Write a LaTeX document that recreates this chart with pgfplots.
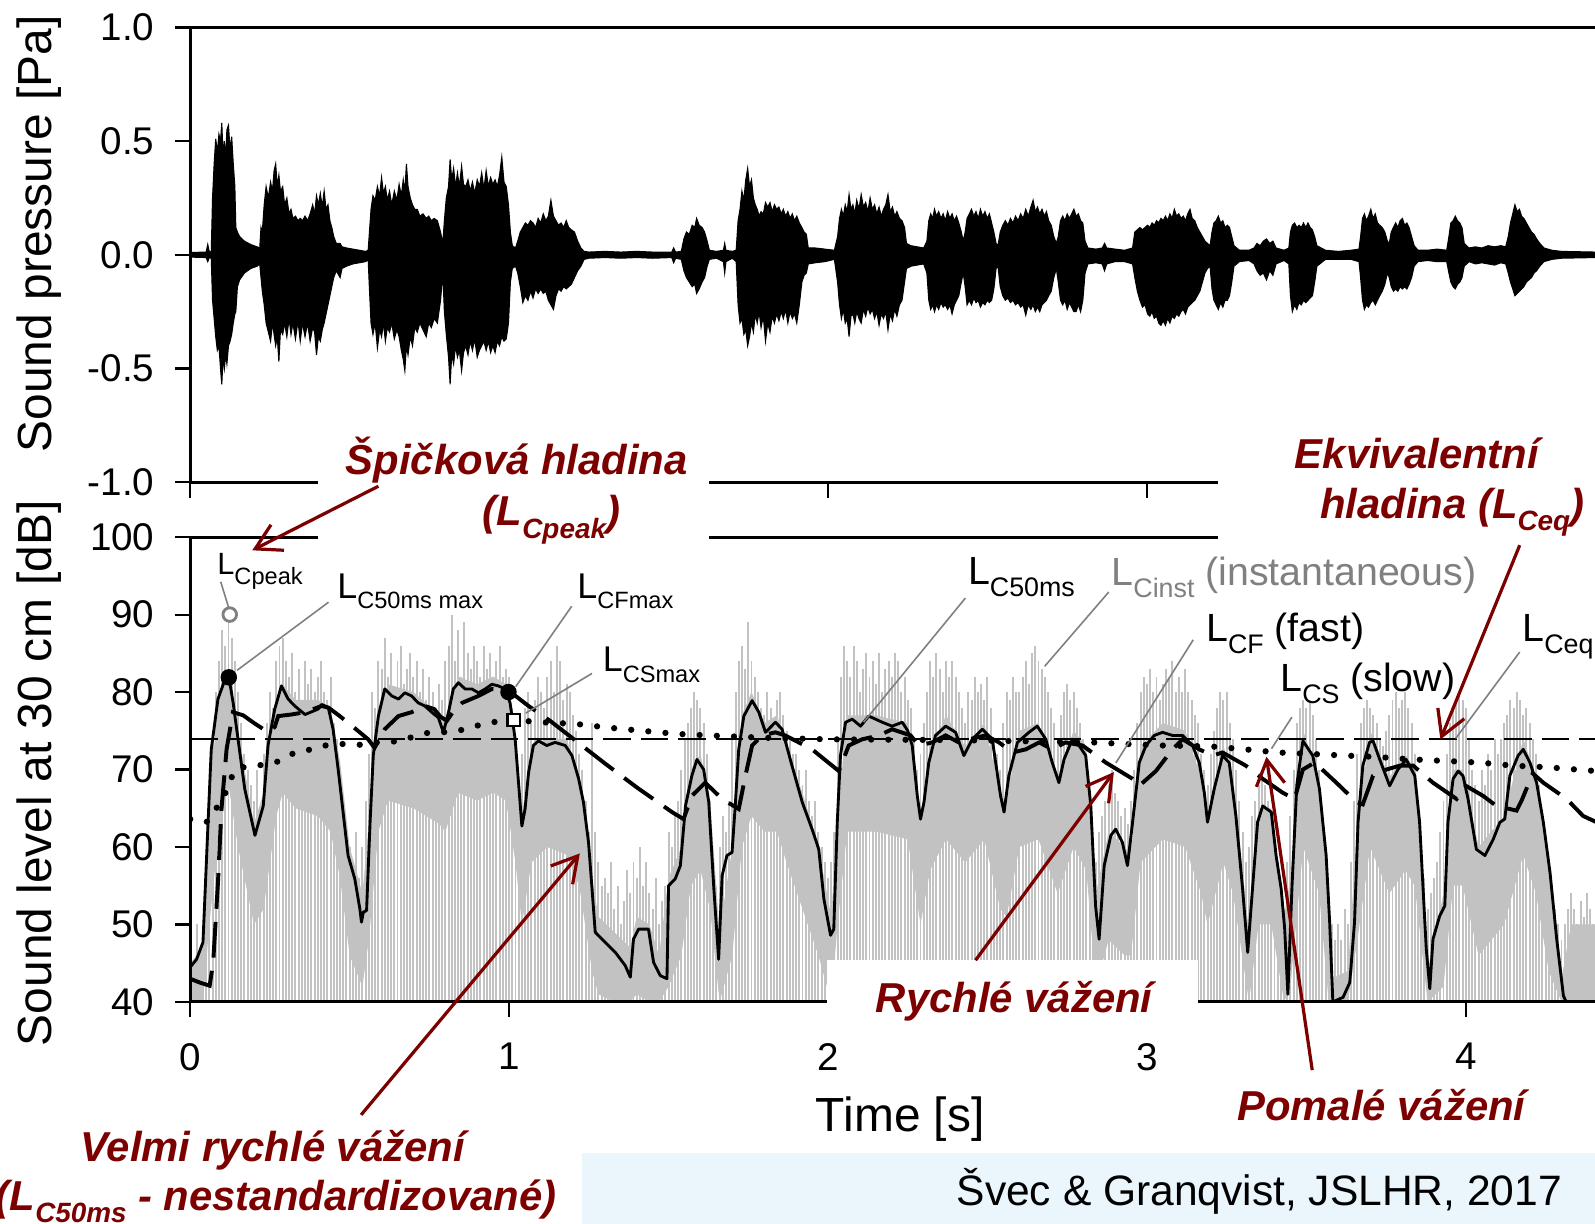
\documentclass[border=0pt]{standalone}
\usepackage{pgfplots}
\pgfplotsset{compat=1.18}
\usepackage{pgfplotstable}
\usepgfplotslibrary{fillbetween}
\usetikzlibrary{arrows.meta}
\usepackage{fontspec}
\setmainfont{Liberation Sans}

\definecolor{annot}{RGB}{125,0,0}
\definecolor{instgrey}{RGB}{194,194,194}
\definecolor{coregrey}{RGB}{194,194,194}
\definecolor{leadgrey}{RGB}{128,128,128}
\definecolor{citebg}{RGB}{234,246,252}

% L with a lowered subscript: sizes of L and subscript, drop, subscript text
\newcommand{\LL}[4]{{\fontsize{#1}{#1}\selectfont L}\raisebox{-#3}{\fontsize{#2}{#2}\selectfont #4}}

% ---------- sound pressure envelope (upper / lower) ----------
\pgfplotstableread{
t up lo
0.000 0.010 -0.010
0.050 0.012 -0.012
0.055 0.045 -0.03
0.060 0.012 -0.012
0.066 0.015 -0.015
0.070 0.25 -0.20
0.075 0.40 -0.28
0.080 0.51 -0.36
0.085 0.45 -0.42
0.090 0.53 -0.40
0.095 0.50 -0.50
0.099 0.58 -0.57
0.103 0.44 -0.45
0.107 0.50 -0.50
0.111 0.42 -0.44
0.115 0.55 -0.48
0.120 0.57 -0.40
0.125 0.46 -0.38
0.130 0.52 -0.35
0.135 0.40 -0.30
0.140 0.30 -0.26
0.143 0.12 -0.25
0.148 0.10 -0.14
0.155 0.08 -0.11
0.170 0.06 -0.08
0.190 0.045 -0.06
0.210 0.035 -0.05
0.218 0.03 -0.04
0.222 0.12 -0.10
0.226 0.10 -0.16
0.232 0.22 -0.22
0.238 0.30 -0.30
0.245 0.25 -0.34
0.252 0.32 -0.38
0.258 0.28 -0.30
0.263 0.37 -0.35
0.268 0.40 -0.40
0.273 0.30 -0.36
0.278 0.35 -0.47
0.283 0.28 -0.33
0.290 0.30 -0.35
0.296 0.22 -0.30
0.303 0.25 -0.36
0.310 0.18 -0.28
0.316 0.20 -0.35
0.322 0.16 -0.30
0.330 0.17 -0.37
0.338 0.15 -0.29
0.345 0.16 -0.38
0.352 0.15 -0.30
0.360 0.17 -0.36
0.368 0.15 -0.30
0.376 0.18 -0.38
0.384 0.22 -0.32
0.390 0.18 -0.34
0.396 0.26 -0.44
0.402 0.22 -0.36
0.408 0.27 -0.38
0.414 0.21 -0.33
0.420 0.28 -0.30
0.426 0.20 -0.26
0.432 0.22 -0.22
0.438 0.15 -0.18
0.444 0.12 -0.14
0.450 0.08 -0.10
0.458 0.05 -0.07
0.470 0.05 -0.10
0.476 0.035 -0.06
0.490 0.03 -0.05
0.510 0.025 -0.04
0.530 0.02 -0.035
0.550 0.015 -0.03
0.558 0.02 -0.02
0.562 0.10 -0.15
0.567 0.20 -0.30
0.573 0.26 -0.35
0.580 0.24 -0.30
0.587 0.30 -0.41
0.594 0.26 -0.33
0.600 0.34 -0.36
0.606 0.27 -0.30
0.612 0.30 -0.38
0.618 0.24 -0.32
0.625 0.28 -0.34
0.632 0.22 -0.30
0.640 0.28 -0.37
0.648 0.24 -0.33
0.655 0.31 -0.36
0.662 0.26 -0.42
0.668 0.33 -0.46
0.673 0.28 -0.51
0.678 0.40 -0.40
0.683 0.30 -0.44
0.690 0.25 -0.36
0.697 0.22 -0.40
0.704 0.20 -0.32
0.712 0.20 -0.34
0.720 0.17 -0.30
0.730 0.18 -0.33
0.740 0.16 -0.36
0.748 0.17 -0.30
0.756 0.15 -0.32
0.765 0.16 -0.28
0.775 0.15 -0.30
0.785 0.10 -0.20
0.792 0.05 -0.08
0.797 0.15 -0.25
0.803 0.25 -0.35
0.810 0.30 -0.45
0.815 0.42 -0.57
0.820 0.33 -0.44
0.826 0.38 -0.48
0.832 0.30 -0.40
0.838 0.36 -0.45
0.844 0.30 -0.42
0.851 0.39 -0.51
0.857 0.31 -0.43
0.864 0.30 -0.40
0.871 0.33 -0.44
0.878 0.28 -0.38
0.885 0.32 -0.42
0.892 0.27 -0.37
0.900 0.33 -0.45
0.907 0.30 -0.42
0.914 0.36 -0.40
0.921 0.29 -0.38
0.928 0.37 -0.42
0.935 0.30 -0.38
0.942 0.34 -0.43
0.949 0.31 -0.40
0.956 0.33 -0.43
0.963 0.30 -0.38
0.970 0.35 -0.40
0.977 0.43 -0.36
0.984 0.32 -0.38
0.991 0.30 -0.37
0.998 0.22 -0.30
1.004 0.10 -0.12
1.010 0.04 -0.06
1.020 0.03 -0.05
1.027 0.06 -0.08
1.035 0.10 -0.14
1.043 0.12 -0.21
1.051 0.14 -0.18
1.059 0.13 -0.20
1.067 0.15 -0.16
1.075 0.14 -0.19
1.083 0.12 -0.15
1.091 0.16 -0.17
1.099 0.14 -0.15
1.107 0.18 -0.17
1.115 0.15 -0.16
1.123 0.17 -0.20
1.131 0.24 -0.22
1.139 0.17 -0.24
1.147 0.15 -0.18
1.155 0.13 -0.15
1.163 0.14 -0.16
1.171 0.12 -0.14
1.179 0.15 -0.15
1.187 0.12 -0.14
1.195 0.11 -0.13
1.205 0.10 -0.10
1.215 0.06 -0.07
1.225 0.03 -0.05
1.235 0.015 -0.02
1.250 0.012 -0.015
1.300 0.015 -0.012
1.350 0.012 -0.015
1.400 0.015 -0.012
1.450 0.012 -0.015
1.510 0.012 -0.012
1.516 0.03 -0.035
1.522 0.012 -0.015
1.540 0.015 -0.02
1.548 0.07 -0.07
1.556 0.10 -0.10
1.565 0.09 -0.12
1.574 0.13 -0.14
1.582 0.12 -0.13
1.588 0.16 -0.17
1.596 0.13 -0.15
1.605 0.12 -0.12
1.613 0.10 -0.10
1.621 0.06 -0.05
1.628 0.02 -0.02
1.650 0.015 -0.015
1.672 0.02 -0.03
1.676 0.05 -0.08
1.680 0.02 -0.03
1.700 0.015 -0.015
1.712 0.02 -0.03
1.718 0.15 -0.22
1.724 0.20 -0.30
1.730 0.28 -0.28
1.736 0.24 -0.35
1.742 0.33 -0.33
1.748 0.38 -0.40
1.754 0.30 -0.36
1.760 0.33 -0.30
1.766 0.25 -0.34
1.772 0.22 -0.26
1.778 0.20 -0.30
1.784 0.17 -0.25
1.790 0.19 -0.32
1.797 0.18 -0.27
1.804 0.23 -0.38
1.811 0.21 -0.30
1.818 0.23 -0.34
1.825 0.19 -0.27
1.832 0.22 -0.30
1.839 0.20 -0.26
1.846 0.21 -0.29
1.853 0.18 -0.25
1.860 0.20 -0.28
1.867 0.17 -0.24
1.874 0.19 -0.30
1.881 0.16 -0.25
1.888 0.18 -0.28
1.895 0.15 -0.26
1.902 0.17 -0.30
1.910 0.14 -0.22
1.918 0.12 -0.12
1.925 0.10 -0.09
1.932 0.09 -0.08
1.938 0.03 -0.04
1.960 0.03 -0.035
1.990 0.025 -0.03
2.020 0.02 -0.02
2.030 0.08 -0.12
2.036 0.16 -0.22
2.042 0.20 -0.28
2.048 0.17 -0.24
2.054 0.22 -0.30
2.060 0.19 -0.28
2.066 0.265 -0.36
2.072 0.20 -0.27
2.078 0.22 -0.26
2.084 0.18 -0.30
2.090 0.24 -0.25
2.097 0.20 -0.28
2.104 0.265 -0.30
2.111 0.21 -0.24
2.118 0.23 -0.27
2.125 0.19 -0.23
2.132 0.25 -0.26
2.139 0.20 -0.24
2.146 0.22 -0.28
2.153 0.18 -0.25
2.160 0.21 -0.31
2.167 0.17 -0.26
2.174 0.20 -0.28
2.181 0.22 -0.25
2.188 0.265 -0.33
2.195 0.19 -0.26
2.202 0.21 -0.29
2.209 0.17 -0.24
2.216 0.19 -0.27
2.224 0.16 -0.22
2.232 0.15 -0.20
2.240 0.12 -0.12
2.246 0.05 -0.06
2.260 0.04 -0.05
2.280 0.035 -0.045
2.300 0.03 -0.04
2.310 0.06 -0.08
2.316 0.15 -0.20
2.322 0.18 -0.24
2.328 0.16 -0.22
2.334 0.20 -0.25
2.340 0.17 -0.22
2.347 0.19 -0.24
2.354 0.16 -0.21
2.361 0.18 -0.23
2.368 0.15 -0.22
2.375 0.19 -0.24
2.382 0.16 -0.22
2.389 0.18 -0.26
2.396 0.15 -0.22
2.403 0.17 -0.20
2.410 0.14 -0.18
2.418 0.10 -0.12
2.424 0.06 -0.08
2.430 0.10 -0.14
2.436 0.16 -0.22
2.443 0.18 -0.20
2.450 0.20 -0.22
2.457 0.17 -0.19
2.464 0.19 -0.21
2.471 0.16 -0.20
2.478 0.20 -0.23
2.485 0.17 -0.21
2.492 0.19 -0.22
2.499 0.16 -0.20
2.506 0.18 -0.21
2.513 0.14 -0.20
2.520 0.10 -0.15
2.527 0.05 -0.06
2.533 0.04 -0.05
2.540 0.10 -0.14
2.548 0.13 -0.18
2.556 0.15 -0.20
2.564 0.13 -0.19
2.572 0.16 -0.21
2.580 0.14 -0.20
2.588 0.17 -0.22
2.596 0.15 -0.21
2.604 0.18 -0.23
2.612 0.16 -0.22
2.620 0.20 -0.265
2.628 0.17 -0.22
2.636 0.21 -0.24
2.643 0.24 -0.22
2.650 0.19 -0.25
2.657 0.21 -0.23
2.664 0.18 -0.25
2.671 0.20 -0.22
2.678 0.17 -0.21
2.685 0.19 -0.20
2.692 0.15 -0.18
2.700 0.13 -0.16
2.708 0.08 -0.10
2.716 0.05 -0.06
2.722 0.08 -0.12
2.729 0.15 -0.20
2.736 0.17 -0.22
2.743 0.15 -0.20
2.750 0.18 -0.24
2.757 0.16 -0.21
2.764 0.18 -0.23
2.771 0.20 -0.25
2.778 0.17 -0.25
2.785 0.18 -0.22
2.792 0.15 -0.25
2.799 0.14 -0.20
2.806 0.06 -0.08
2.815 0.03 -0.04
2.840 0.025 -0.035
2.860 0.03 -0.04
2.867 0.05 -0.07
2.874 0.03 -0.04
2.900 0.025 -0.03
2.930 0.02 -0.03
2.955 0.03 -0.04
2.962 0.10 -0.10
2.970 0.11 -0.16
2.978 0.12 -0.20
2.986 0.11 -0.23
2.994 0.12 -0.22
3.002 0.13 -0.26
3.009 0.12 -0.27
3.016 0.14 -0.25
3.023 0.13 -0.28
3.030 0.15 -0.27
3.037 0.14 -0.30
3.044 0.16 -0.31
3.051 0.15 -0.29
3.058 0.17 -0.31
3.065 0.15 -0.28
3.072 0.18 -0.30
3.079 0.16 -0.27
3.086 0.20 -0.28
3.093 0.17 -0.26
3.100 0.18 -0.27
3.107 0.16 -0.25
3.114 0.17 -0.24
3.121 0.15 -0.26
3.128 0.18 -0.23
3.135 0.20 -0.22
3.142 0.16 -0.21
3.150 0.15 -0.20
3.158 0.12 -0.18
3.166 0.10 -0.16
3.174 0.08 -0.12
3.182 0.06 -0.08
3.190 0.05 -0.06
3.198 0.04 -0.05
3.204 0.10 -0.15
3.210 0.14 -0.20
3.217 0.15 -0.22
3.224 0.17 -0.24
3.231 0.14 -0.21
3.238 0.15 -0.23
3.245 0.12 -0.20
3.252 0.13 -0.20
3.259 0.12 -0.18
3.266 0.08 -0.12
3.273 0.04 -0.05
3.290 0.02 -0.03
3.320 0.02 -0.025
3.336 0.03 -0.04
3.345 0.05 -0.07
3.355 0.04 -0.09
3.365 0.06 -0.08
3.375 0.07 -0.11
3.385 0.05 -0.07
3.395 0.06 -0.09
3.405 0.03 -0.04
3.430 0.02 -0.025
3.445 0.03 -0.04
3.450 0.10 -0.18
3.456 0.13 -0.25
3.463 0.14 -0.22
3.470 0.12 -0.24
3.477 0.13 -0.21
3.484 0.12 -0.22
3.491 0.14 -0.20
3.498 0.12 -0.21
3.505 0.14 -0.20
3.512 0.12 -0.19
3.519 0.11 -0.18
3.526 0.08 -0.12
3.533 0.04 -0.05
3.560 0.02 -0.02
3.600 0.015 -0.02
3.640 0.02 -0.02
3.665 0.025 -0.03
3.670 0.08 -0.10
3.676 0.16 -0.20
3.682 0.18 -0.24
3.688 0.15 -0.22
3.695 0.17 -0.23
3.702 0.20 -0.21
3.709 0.16 -0.20
3.716 0.18 -0.22
3.723 0.14 -0.20
3.730 0.13 -0.18
3.738 0.12 -0.16
3.746 0.10 -0.13
3.754 0.06 -0.08
3.760 0.05 -0.10
3.766 0.10 -0.14
3.773 0.12 -0.16
3.780 0.14 -0.15
3.787 0.12 -0.16
3.794 0.15 -0.14
3.801 0.16 -0.15
3.808 0.13 -0.14
3.815 0.14 -0.15
3.822 0.12 -0.13
3.830 0.08 -0.10
3.838 0.04 -0.05
3.850 0.02 -0.03
3.880 0.02 -0.025
3.910 0.025 -0.03
3.940 0.02 -0.03
3.947 0.08 -0.08
3.953 0.14 -0.12
3.960 0.15 -0.14
3.967 0.17 -0.15
3.974 0.15 -0.13
3.981 0.14 -0.12
3.988 0.12 -0.10
3.995 0.05 -0.05
4.010 0.03 -0.03
4.030 0.035 -0.04
4.050 0.03 -0.035
4.070 0.04 -0.04
4.090 0.035 -0.045
4.110 0.04 -0.035
4.125 0.035 -0.04
4.133 0.08 -0.08
4.140 0.14 -0.12
4.147 0.18 -0.15
4.154 0.22 -0.18
4.161 0.19 -0.17
4.168 0.20 -0.16
4.175 0.17 -0.15
4.182 0.16 -0.14
4.190 0.14 -0.12
4.198 0.12 -0.11
4.206 0.10 -0.10
4.214 0.09 -0.08
4.222 0.07 -0.07
4.232 0.05 -0.05
4.245 0.03 -0.03
4.270 0.02 -0.02
4.300 0.015 -0.015
4.405 0.012 -0.012
}\wave

% ---------- L_C50ms ----------
\pgfplotstableread{
t L
0.000 44.5
0.020 45.5
0.040 47.7
0.056 63.2
0.066 72.6
0.087 79.1
0.108 81.5
0.121 82.0
0.135 78.5
0.150 73.9
0.171 67.5
0.203 61.5
0.229 65.3
0.244 73.1
0.265 77.8
0.286 80.8
0.307 79.1
0.328 78.2
0.360 77.1
0.401 77.8
0.412 78.4
0.433 78.0
0.448 75.2
0.464 70.0
0.495 58.9
0.516 55.9
0.532 52.0
0.537 50.3
0.543 51.6
0.553 51.8
0.564 63.2
0.574 71.8
0.590 76.9
0.610 80.4
0.632 79.5
0.653 79.1
0.673 79.9
0.694 79.5
0.715 78.6
0.736 78.2
0.757 77.4
0.778 76.7
0.794 74.8
0.810 77.4
0.825 80.4
0.841 81.2
0.862 80.4
0.883 80.4
0.904 79.9
0.925 80.4
0.946 81.0
0.966 80.8
0.987 80.4
1.003 78.6
1.019 73.9
1.040 62.7
1.050 64.9
1.061 69.6
1.076 73.1
1.092 73.7
1.118 73.1
1.144 73.5
1.176 73.1
1.197 71.8
1.218 68.8
1.233 65.8
1.249 60.6
1.260 54.6
1.270 49.0
1.301 47.7
1.333 46.4
1.364 44.7
1.380 43.2
1.390 48.1
1.406 49.4
1.437 49.4
1.453 45.1
1.474 43.4
1.495 43.0
1.500 55.0
1.521 55.9
1.537 57.6
1.553 65.3
1.573 69.2
1.589 71.3
1.610 70.0
1.626 65.8
1.642 54.6
1.657 45.5
1.668 56.3
1.683 58.9
1.699 59.3
1.709 65.3
1.720 72.6
1.736 76.9
1.762 78.9
1.783 77.4
1.804 74.8
1.835 76.1
1.856 75.2
1.887 70.5
1.919 65.8
1.950 62.3
1.971 59.7
1.987 53.3
2.008 48.6
2.018 49.4
2.029 63.2
2.039 71.8
2.055 76.1
2.076 76.5
2.102 75.6
2.128 76.9
2.149 76.5
2.170 76.1
2.201 75.6
2.233 76.1
2.250 75.0
2.264 73.1
2.280 66.6
2.290 63.6
2.301 65.8
2.316 70.9
2.337 74.4
2.369 75.6
2.400 74.8
2.426 71.8
2.452 73.9
2.484 75.2
2.515 73.9
2.541 66.6
2.552 64.5
2.567 69.2
2.594 73.5
2.630 74.8
2.656 75.6
2.683 73.9
2.703 70.9
2.724 68.3
2.740 71.3
2.766 73.9
2.787 73.1
2.808 71.8
2.824 65.3
2.839 52.4
2.850 48.1
2.866 57.6
2.887 61.5
2.902 62.3
2.923 60.6
2.939 57.6
2.955 63.2
2.976 70.9
2.997 73.1
3.023 74.4
3.049 74.8
3.080 74.4
3.112 74.4
3.143 73.1
3.164 70.9
3.180 67.0
3.190 63.2
3.211 67.5
3.237 71.8
3.258 70.9
3.279 64.0
3.300 54.6
3.316 46.4
3.331 54.6
3.347 63.2
3.363 65.3
3.390 64.5
3.405 58.9
3.421 54.6
3.432 49.4
3.442 41.0
3.455 55.0
3.470 68.0
3.489 73.7
3.520 71.8
3.541 67.5
3.562 58.9
3.573 50.3
3.583 40.0
3.615 40.6
3.636 42.5
3.651 50.3
3.662 63.2
3.677 70.5
3.698 73.5
3.709 73.7
3.730 71.3
3.761 67.9
3.787 70.0
3.813 71.3
3.840 69.2
3.855 63.2
3.866 54.6
3.876 46.8
3.887 41.7
3.897 48.1
3.918 51.1
3.934 52.4
3.944 63.2
3.960 68.8
3.976 69.8
3.991 69.2
4.007 66.2
4.033 59.7
4.060 58.9
4.086 61.0
4.107 63.2
4.122 63.6
4.138 69.2
4.164 71.8
4.180 72.6
4.201 70.9
4.222 68.3
4.243 63.2
4.264 56.7
4.285 48.1
4.306 40.8
4.320 39.5
}\cfifty

% ---------- L_CF (fast) ----------
\pgfplotstableread{
t L
0.000 43.0
0.030 42.5
0.061 42.1
0.072 45.1
0.087 55.4
0.098 64.9
0.114 72.6
0.134 77.4
0.166 77.0
0.200 76.0
0.245 74.8
0.265 75.5
0.276 76.9
0.317 77.1
0.360 77.4
0.412 78.2
0.433 78.0
0.469 76.9
0.520 75.2
0.558 73.9
0.578 72.8
0.610 75.2
0.653 76.9
0.694 77.4
0.736 78.2
0.765 77.8
0.785 76.8
0.805 76.3
0.830 77.8
0.852 78.6
0.904 79.5
0.946 80.4
0.998 80.2
1.061 78.2
1.128 76.3
1.200 74.0
1.300 70.8
1.400 67.7
1.511 64.5
1.547 63.6
1.573 66.6
1.615 68.3
1.668 66.2
1.720 64.9
1.741 69.2
1.762 73.1
1.793 74.4
1.835 74.8
1.866 74.4
1.950 72.6
2.013 70.5
2.034 69.8
2.065 73.1
2.107 73.9
2.160 74.4
2.201 75.2
2.259 74.4
2.285 73.1
2.327 73.5
2.369 74.4
2.410 73.5
2.452 74.0
2.494 74.4
2.536 73.5
2.578 72.2
2.620 72.6
2.662 73.5
2.703 72.6
2.745 73.5
2.798 73.1
2.871 70.9
2.955 68.8
2.976 67.9
3.028 69.8
3.080 72.6
3.112 73.9
3.164 72.6
3.206 71.8
3.237 72.2
3.310 70.5
3.363 68.8
3.426 67.0
3.463 66.2
3.489 70.0
3.526 70.9
3.594 68.3
3.657 65.8
3.677 65.5
3.709 69.2
3.751 70.0
3.793 70.5
3.835 70.5
3.897 68.3
3.971 66.2
4.000 67.9
4.054 66.6
4.096 65.3
4.159 64.7
4.175 66.0
4.210 69.5
4.243 68.3
4.316 66.2
4.368 64.0
4.410 63.2
}\cfast

% ---------- L_CS (slow) ----------
\pgfplotstableread{
t L
0.000 63.6
0.051 63.2
0.087 65.3
0.103 66.2
0.119 67.9
0.140 70.0
0.187 70.5
0.234 70.6
0.281 71.1
0.328 72.2
0.380 72.6
0.433 73.2
0.480 73.3
0.532 73.2
0.585 73.5
0.637 73.6
0.689 74.1
0.736 74.7
0.789 74.8
0.841 75.0
0.893 75.6
0.946 76.1
1.013 76.4
1.100 76.1
1.207 75.9
1.312 75.4
1.417 75.0
1.526 74.6
1.626 74.4
1.800 74.1
2.000 73.9
2.400 73.8
2.829 73.5
2.934 73.3
3.049 73.1
3.195 73.0
3.310 72.6
3.410 72.2
3.520 72.0
3.625 71.8
3.730 71.6
3.835 71.3
3.939 71.1
4.044 70.9
4.148 70.5
4.253 70.3
4.410 69.8
}\cslow

% ---------- dense band of the instantaneous level ----------
\pgfplotstableread{
t U D
0.00 45 40
0.04 47 40
0.06 67 50
0.09 79 62
0.12 83 68
0.15 75 60
0.20 63 50
0.23 67 52
0.27 79 64
0.29 81 67
0.33 79 65
0.40 79 64
0.44 78 62
0.47 71 56
0.50 60 46
0.54 54 42
0.56 63 48
0.59 77 62
0.62 81 66
0.70 80 65
0.78 77 63
0.80 76 62
0.84 82 67
0.90 81 66
0.95 82 67
0.99 81 66
1.02 74 58
1.04 64 50
1.07 73 58
1.12 74 60
1.18 74 59
1.22 69 55
1.26 56 44
1.28 51 41
1.33 49 40
1.38 47 40
1.40 51 41
1.44 50 40
1.47 46 40
1.50 56 42
1.54 60 46
1.57 70 55
1.60 72 57
1.63 66 52
1.66 49 40
1.70 60 46
1.73 77 60
1.76 80 64
1.80 76 62
1.84 77 62
1.87 73 58
1.92 67 52
1.97 60 46
2.01 51 40
2.03 64 50
2.06 77 62
2.10 77 62
2.15 77 62
2.25 76 61
2.29 64 50
2.32 72 57
2.37 77 61
2.43 73 58
2.49 76 61
2.54 67 52
2.56 66 51
2.60 75 60
2.66 76 61
2.72 69 54
2.77 75 60
2.81 73 57
2.84 54 42
2.88 62 48
2.93 60 46
2.95 59 46
2.98 73 58
3.05 76 61
3.12 75 60
3.17 69 54
3.19 64 50
3.24 73 58
3.27 69 54
3.32 49 40
3.35 65 50
3.39 65 50
3.43 51 40
3.45 56 42
3.49 75 60
3.54 69 54
3.57 52 40
3.58 43 40
3.63 44 40
3.66 63 48
3.70 75 60
3.76 69 54
3.81 72 57
3.84 70 55
3.88 44 40
3.93 54 42
3.96 70 55
3.99 70 55
4.04 60 46
4.08 62 48
4.12 64 50
4.18 74 59
4.22 69 54
4.26 58 44
4.30 43 40
4.33 50 40
4.405 50 40
}\core

\begin{document}
\begin{tikzpicture}

\pgfplotsset{
  panel/.style={
    scale only axis, width=13.81cm,
    xmin=0, xmax=4.405,
    axis line style={draw=none},
    tick align=outside, xtick pos=bottom, ytick pos=left,
    major tick length=4.3pt,
    tick style={line width=0.6pt, black},
    xtick={0,1,2,3,4},
    ticklabel style={font=\fontsize{10.8}{13}\selectfont},
    yticklabel style={anchor=east, inner sep=0pt, xshift=-5.5pt},
    xticklabel style={anchor=north, inner sep=0pt, yshift=-7pt},
  }
}

% ---------------- sound pressure waveform ----------------
\begin{axis}[panel, at={(1.87cm,-4.74cm)}, anchor=south west, height=4.47cm,
  ymin=-1, ymax=1, ytick={-1,-0.5,0,0.5,1},
  yticklabels={-1.0,-0.5,0.0,0.5,1.0}, xticklabels={}]
\addplot[name path=wup, black, line width=0.3pt] table[x=t, y=up] {\wave};
\addplot[name path=wlo, black, line width=0.3pt] table[x=t, y=lo] {\wave};
\addplot[black] fill between[of=wup and wlo];
\end{axis}

% ---------------- sound level ----------------
\begin{axis}[panel, at={(1.87cm,-9.85cm)}, anchor=south west, height=4.57cm,
  ymin=40, ymax=100, ytick={40,50,60,70,80,90,100},
  yticklabels={40,50,60,70,80,90,100}, xticklabels={0,1,2,3,4}]
% instantaneous level: individual grey strokes
\addplot[ycomb, draw=instgrey, line width=0.55pt, mark=none] coordinates {
(0.00,48)(0.01,45)(0.02,50)(0.03,47)(0.04,49)(0.05,52)(0.06,62)(0.07,75)(0.08,80)(0.09,84)
(0.10,88)(0.11,86)(0.12,89)(0.13,87)(0.14,84)(0.15,80)(0.16,76)(0.17,72)(0.18,70)(0.19,68)
(0.20,66)(0.21,70)(0.22,64)(0.23,72)(0.24,76)(0.25,80)(0.26,78)(0.27,84)(0.28,86)(0.29,87)
(0.30,84)(0.31,82)(0.32,85)(0.33,80)(0.34,83)(0.35,79)(0.36,84)(0.37,81)(0.38,83)(0.39,80)
(0.40,82)(0.41,84)(0.42,80)(0.43,79)(0.44,82)(0.45,76)(0.46,74)(0.47,70)(0.48,66)(0.49,62)
(0.50,60)(0.51,58)(0.52,62)(0.53,56)(0.54,60)(0.55,66)(0.56,72)(0.57,80)(0.58,78)(0.59,84)
(0.60,83)(0.61,87)(0.62,82)(0.63,85)(0.64,80)(0.65,84)(0.66,86)(0.67,81)(0.68,83)(0.69,85)
(0.70,82)(0.71,84)(0.72,80)(0.73,83)(0.74,79)(0.75,82)(0.76,80)(0.77,78)(0.78,81)(0.79,79)
(0.80,84)(0.81,86)(0.82,90)(0.83,84)(0.84,88)(0.85,82)(0.86,89)(0.87,85)(0.88,83)(0.89,86)
(0.90,84)(0.91,82)(0.92,86)(0.93,83)(0.94,85)(0.95,81)(0.96,84)(0.97,86)(0.98,82)(0.99,83)
(1.00,82)(1.01,78)(1.02,70)(1.03,68)(1.04,72)(1.05,78)(1.06,80)(1.07,76)(1.08,79)(1.09,82)
(1.10,80)(1.11,78)(1.12,82)(1.13,84)(1.14,80)(1.15,86)(1.16,84)(1.17,79)(1.18,81)(1.19,80)
(1.20,77)(1.21,75)(1.22,72)(1.23,70)(1.24,66)(1.25,62)(1.26,76)(1.27,62)(1.28,58)(1.29,55)
(1.30,56)(1.31,54)(1.32,58)(1.33,52)(1.34,55)(1.35,50)(1.36,53)(1.37,57)(1.38,54)(1.39,58)
(1.40,56)(1.41,60)(1.42,55)(1.43,58)(1.44,54)(1.45,52)(1.46,56)(1.47,50)(1.48,53)(1.49,55)
(1.50,62)(1.51,60)(1.52,64)(1.53,66)(1.54,70)(1.55,74)(1.56,76)(1.57,78)(1.58,80)(1.59,79)
(1.60,78)(1.61,76)(1.62,72)(1.63,66)(1.64,58)(1.65,55)(1.66,60)(1.67,64)(1.68,62)(1.69,66)
(1.70,74)(1.71,80)(1.72,84)(1.73,86)(1.74,83)(1.75,89)(1.76,84)(1.77,82)(1.78,80)(1.79,78)
(1.80,77)(1.81,80)(1.82,78)(1.83,76)(1.84,79)(1.85,80)(1.86,77)(1.87,75)(1.88,74)(1.89,72)
(1.90,72)(1.91,70)(1.92,68)(1.93,70)(1.94,66)(1.95,64)(1.96,66)(1.97,62)(1.98,60)(1.99,58)
(2.00,56)(2.01,58)(2.02,62)(2.03,74)(2.04,82)(2.05,86)(2.06,84)(2.07,82)(2.08,86)(2.09,84)
(2.10,80)(2.11,83)(2.12,85)(2.13,82)(2.14,84)(2.15,81)(2.16,85)(2.17,80)(2.18,83)(2.19,84)
(2.20,82)(2.21,85)(2.22,84)(2.23,80)(2.24,82)(2.25,79)(2.26,78)(2.27,74)(2.28,70)(2.29,72)
(2.30,76)(2.31,80)(2.32,84)(2.33,82)(2.34,85)(2.35,83)(2.36,80)(2.37,84)(2.38,82)(2.39,84)
(2.40,82)(2.41,80)(2.42,78)(2.43,76)(2.44,80)(2.45,79)(2.46,82)(2.47,80)(2.48,81)(2.49,79)
(2.50,82)(2.51,78)(2.52,74)(2.53,72)(2.54,70)(2.55,76)(2.56,80)(2.57,79)(2.58,82)(2.59,80)
(2.60,80)(2.61,82)(2.62,84)(2.63,81)(2.64,85)(2.65,86)(2.66,84)(2.67,83)(2.68,82)(2.69,80)
(2.70,78)(2.71,76)(2.72,74)(2.73,77)(2.74,80)(2.75,81)(2.76,79)(2.77,80)(2.78,78)(2.79,76)
(2.80,74)(2.81,70)(2.82,64)(2.83,60)(2.84,58)(2.85,62)(2.86,64)(2.87,66)(2.88,68)(2.89,70)
(2.90,67)(2.91,66)(2.92,64)(2.93,65)(2.94,63)(2.95,66)(2.96,70)(2.97,76)(2.98,80)(2.99,82)
(3.00,81)(3.01,83)(3.02,80)(3.03,82)(3.04,79)(3.05,81)(3.06,83)(3.07,82)(3.08,84)(3.09,80)
(3.10,82)(3.11,80)(3.12,83)(3.13,80)(3.14,79)(3.15,77)(3.16,76)(3.17,72)(3.18,70)(3.19,68)
(3.20,72)(3.21,75)(3.22,78)(3.23,80)(3.24,79)(3.25,80)(3.26,76)(3.27,74)(3.28,70)(3.29,66)
(3.30,62)(3.31,58)(3.32,60)(3.33,64)(3.34,66)(3.35,68)(3.36,70)(3.37,68)(3.38,66)(3.39,64)
(3.40,62)(3.41,58)(3.42,54)(3.43,52)(3.44,58)(3.45,64)(3.46,70)(3.47,76)(3.48,78)(3.49,79)
(3.50,78)(3.51,79)(3.52,77)(3.53,74)(3.54,70)(3.55,64)(3.56,58)(3.57,52)(3.58,50)(3.59,48)
(3.60,50)(3.61,48)(3.62,52)(3.63,50)(3.64,58)(3.65,66)(3.66,72)(3.67,76)(3.68,78)(3.69,79)
(3.70,78)(3.71,77)(3.72,76)(3.73,74)(3.74,73)(3.75,75)(3.76,77)(3.77,79)(3.78,80)(3.79,78)
(3.80,79)(3.81,80)(3.82,78)(3.83,76)(3.84,72)(3.85,66)(3.86,60)(3.87,56)(3.88,52)(3.89,54)
(3.90,56)(3.91,58)(3.92,62)(3.93,66)(3.94,72)(3.95,76)(3.96,78)(3.97,79)(3.98,80)(3.99,79)
(4.00,78)(4.01,74)(4.02,70)(4.03,68)(4.04,66)(4.05,70)(4.06,68)(4.07,72)(4.08,70)(4.09,74)
(4.10,72)(4.11,74)(4.12,76)(4.13,77)(4.14,79)(4.15,78)(4.16,80)(4.17,79)(4.18,77)(4.19,78)
(4.20,76)(4.21,74)(4.22,72)(4.23,68)(4.24,64)(4.25,60)(4.26,58)(4.27,54)(4.28,52)(4.29,50)
(4.30,48)(4.31,50)(4.32,52)(4.33,54)(4.34,52)(4.35,50)(4.36,53)(4.37,51)(4.38,54)(4.39,52)
(4.40,50)
};
% dense part of the instantaneous level
\addplot[name path=cu, draw=none] table[x=t, y=U] {\core};
\addplot[name path=cd, draw=none] table[x=t, y=D] {\core};
\addplot[coregrey] fill between[of=cu and cd];
% equivalent level
\addplot[black, line width=0.5pt, dash pattern=on 7.7pt off 2.8pt] coordinates {(0,73.9) (4.405,73.9)};
% slow
\addplot[black, line width=1.75pt, line cap=round, dash pattern=on 0pt off 4.8pt] table[x=t, y=L] {\cslow};
% fast
\addplot[black, line width=1.1pt, dash pattern=on 10pt off 3.7pt] table[x=t, y=L] {\cfast};
% 50 ms
\addplot[black, line width=0.8pt, line join=round] table[x=t, y=L] {\cfifty};
% maxima
\addplot[only marks, mark=o, mark size=1.9pt, draw=leadgrey, line width=0.8pt] coordinates {(0.124,90)};
\addplot[only marks, mark=*, mark size=2.1pt, black] coordinates {(0.121,81.9) (0.998,80.0)};
\addplot[only marks, mark=square*, mark size=1.7pt, fill=white, draw=black, line width=0.6pt] coordinates {(1.014,76.4)};
\end{axis}

\begin{scope}[x=0.1mm, y=-0.1mm]
% ---------------- frames ----------------
\draw[line width=0.85pt] (187,27) -- (1568,27);
\draw[line width=0.85pt] (187,474) -- (1568,474);
\draw[line width=0.85pt] (187,27) -- (187,474);
\draw[line width=0.85pt] (187,528) -- (1568,528);
\draw[line width=0.85pt] (187,985) -- (1568,985);
\draw[line width=0.85pt] (187,528) -- (187,985);

% axis titles
\node[rotate=90, font=\fontsize{13.4}{16}\selectfont] at (38,230) {Sound pressure [Pa]};
\node[rotate=90, font=\fontsize{13.4}{16}\selectfont] at (38,760) {Sound level at 30 cm [dB]};
\node[font=\fontsize{13.4}{16}\selectfont] at (885,1100) {Time [s]};

% backgrounds of the callouts
\fill[white] (313,415) rectangle (697,533);
\fill[white] (1197,415) rectangle (1568,533);
\fill[white] (813,944) rectangle (1178,1012);
\fill[white] (0,1095) rectangle (572,1203);
\fill[citebg] (572,1133) rectangle (1568,1203);

% leader lines
\begin{scope}[leadgrey, line width=0.45pt]
\draw (217,572) -- (225,598);
\draw (323,592) -- (233,659);
\draw (562,596) -- (507,675);
\draw (582,662) -- (517,701);
\draw (949,588) -- (849,710);
\draw (1090,582) -- (1027,655);
\draw (1173,629) -- (1097,750);
\draw (1270,705) -- (1250,736);
\draw (1494,641) -- (1431,726);
\end{scope}

% curve labels
\node[anchor=base west, inner sep=0pt] at (213,565) {\LL{8.6}{6.6}{2.6pt}{Cpeak}};
\node[anchor=base west, inner sep=0pt] at (331,588) {\LL{10}{6.6}{3pt}{C50ms max}};
\node[anchor=base west, inner sep=0pt] at (567,588) {\LL{10}{6.6}{3pt}{CFmax}};
\node[anchor=base west, inner sep=0pt] at (592,660) {\LL{10}{6.6}{3pt}{CSmax}};
\node[anchor=base west, inner sep=0pt] at (951,575) {\LL{11}{7.5}{3.3pt}{C50ms}};
\node[anchor=base west, inner sep=0pt, text=leadgrey, font=\fontsize{11}{13}\selectfont] at (1092,576) {\LL{11}{7.5}{3.3pt}{Cinst} (instantaneous)};
\node[anchor=base west, inner sep=0pt, font=\fontsize{11}{13}\selectfont] at (1185,631) {\LL{11}{7.5}{3.3pt}{CF} (fast)};
\node[anchor=base west, inner sep=0pt, font=\fontsize{11}{13}\selectfont] at (1258,680) {\LL{11}{7.5}{3.3pt}{CS} (slow)};
\node[anchor=base west, inner sep=0pt] at (1496,631) {\LL{11}{7.5}{3.3pt}{Ceq}};

% callouts
\begin{scope}[annot, line width=0.9pt, -{Straight Barb[length=7pt,width=8pt]}]
\draw (372,478) -- (248,541);
\draw (1494,536) -- (1416,727);
\draw (959,944) -- (1095,759);
\draw (1290,1052) -- (1245,744);
\draw (355,1096) -- (570,839);
\end{scope}
\begin{scope}[every node/.style={text=annot, inner sep=0pt, font=\fontsize{11.7}{14}\selectfont\bfseries\itshape}]
\node[anchor=base] at (508,466) {Špičková hladina};
\node[anchor=base west] at (474,517) {(\LL{11.7}{7.8}{3.4pt}{Cpeak})};
\node[anchor=base] at (1393,461) {Ekvivalentní};
\node[anchor=base west] at (1297,510) {hladina (\LL{11.7}{7.8}{3.4pt}{Ceq})};
\node[anchor=base] at (997,995) {Rychlé vážení};
\node[anchor=base] at (1358,1102) {Pomalé vážení};
\node[anchor=base] at (268,1142) {Velmi rychlé vážení};
\node[anchor=base east] at (548,1190) {(\LL{11.7}{7.8}{3.4pt}{C50ms} - nestandardizované)};
\end{scope}

\node[anchor=base, inner sep=0pt, font=\fontsize{11.9}{14}\selectfont] at (1238,1185) {Švec \& Granqvist, JSLHR, 2017};

% page area
\pgfresetboundingbox
\useasboundingbox (0,0) rectangle (1568,1203);
\end{scope}
\end{tikzpicture}
\end{document}
